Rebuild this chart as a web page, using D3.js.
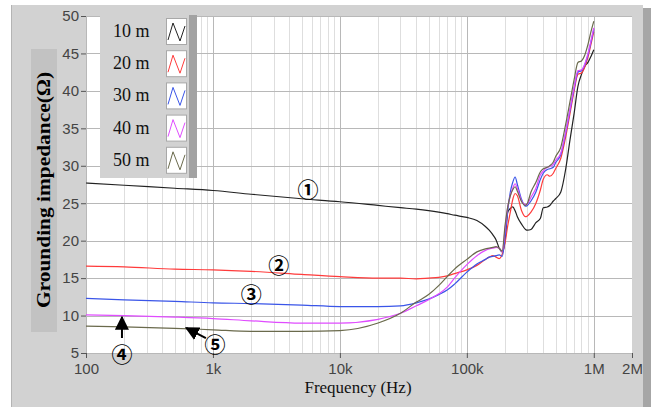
<!DOCTYPE html>
<html>
<head>
<meta charset="utf-8">
<script src="https://cdn.jsdelivr.net/npm/d3@7"></script>
<style>
  body { margin: 0; background: #fff; }
  svg { display: block; }
</style>
</head>
<body>
<svg id="chart" width="651" height="407"></svg>
<script>
// frequency points shared by the five curves (Hz)
var freqs = [100, 200, 500, 1e3, 2e3, 5e3, 1e4, 2e4, 3e4, 4e4, 5e4, 6e4, 7e4, 8e4,
  1e5, 1.2e5, 1.4e5, 1.5e5, 1.6e5, 1.7e5, 1.8e5, 1.9e5, 2e5, 2.1e5, 2.2e5, 2.3e5, 2.4e5, 2.5e5, 2.7e5, 2.9e5,
  3e5, 3.2e5, 3.5e5, 3.8e5, 4e5, 4.3e5, 4.5e5, 4.8e5, 5e5, 5.5e5, 6e5, 6.5e5, 7e5, 7.5e5, 8e5, 8.5e5, 9e5, 9.5e5, 1e6];

// grounding impedance (ohm) for each conductor length
var z10 = [27.7, 27.4, 27.0, 26.7, 26.2, 25.6, 25.2, 24.7, 24.4, 24.2, 24.0, 23.8, 23.6, 23.4,
  23.1, 22.7, 21.9, 21.4, 20.8, 20.1, 19.0, 18.5, 20.0, 23.8, 24.3, 24.5, 24.0, 23.2, 22.2, 21.5,
  21.4, 21.5, 22.4, 23.0, 24.4, 24.5, 24.7, 25.3, 25.6, 26.5, 29.5, 33.5, 37.0, 40.6, 42.2, 43.3, 43.8, 44.6, 45.5];
var z20 = [16.6, 16.5, 16.2, 16.1, 15.9, 15.5, 15.2, 15.0, 15.0, 14.9, 15.0, 15.1, 15.3, 15.6,
  16.1, 16.7, 17.5, 17.8, 18.0, 17.8, 17.6, 18.2, 19.7, 22.0, 23.8, 25.5, 26.3, 26.0, 24.0, 23.2,
  23.3, 23.8, 25.0, 26.8, 28.2, 28.8, 28.6, 29.0, 29.6, 31.0, 33.8, 37.0, 40.0, 42.2, 42.4, 43.2, 44.5, 46.2, 47.9];
var z30 = [12.3, 12.1, 11.9, 11.7, 11.6, 11.4, 11.2, 11.2, 11.3, 11.7, 12.2, 12.8, 13.4, 14.2,
  15.8, 16.9, 17.5, 17.8, 17.9, 18.0, 18.1, 17.9, 20.5, 24.0, 26.5, 27.8, 28.5, 27.5, 25.5, 24.6,
  24.7, 25.3, 26.5, 28.2, 29.0, 29.5, 29.6, 29.8, 30.4, 31.5, 34.3, 37.4, 40.3, 42.5, 42.7, 43.5, 44.8, 46.5, 48.2];
var z40 = [10.1, 10.0, 9.8, 9.6, 9.3, 9.0, 9.0, 9.5, 10.3, 11.3, 12.1, 12.9, 13.8, 15.0,
  16.8, 18.0, 18.7, 18.9, 19.0, 19.1, 19.0, 18.5, 21.5, 24.5, 26.0, 27.0, 27.6, 27.0, 25.3, 24.8,
  24.9, 25.8, 27.0, 28.8, 29.3, 29.8, 29.9, 30.2, 30.7, 31.7, 34.5, 37.6, 40.5, 42.7, 42.8, 43.6, 45.0, 46.7, 48.4];
var z50 = [8.6, 8.5, 8.3, 8.1, 7.9, 7.9, 8.0, 9.0, 10.3, 11.8, 12.8, 14.0, 15.2, 16.2,
  17.5, 18.5, 18.9, 19.0, 19.1, 19.2, 19.0, 18.6, 22.0, 24.5, 26.0, 26.8, 27.2, 26.6, 25.2, 24.7,
  25.0, 26.5, 27.8, 29.2, 29.6, 29.8, 30.0, 30.5, 31.2, 32.5, 35.5, 38.6, 41.5, 43.8, 44.0, 44.8, 46.2, 47.9, 49.3];

var seriesValues = [z10, z20, z30, z40, z50];
var legendLabels = ["10 m", "20 m", "30 m", "40 m", "50 m"];
var lineColors = ["#222222", "#ff3b3b", "#3a55e8", "#e04cff", "#6a6a4c"];

var xTicks = [100, 1e3, 1e4, 1e5, 1e6, 2e6];
var xTickLabels = ["100", "1k", "10k", "100k", "1M", "2M"];
var yTicks = [5, 10, 15, 20, 25, 30, 35, 40, 45, 50];

// circled curve numbers, placed in data coordinates (Hz, ohm)
var markLabels = ["\u2460", "\u2461", "\u2462", "\u2463", "\u2464"];
var markAt = [[5600, 27.0], [3300, 16.9], [2000, 13.0], [192, 5.0], [1040, 6.3]];
var arrowFrom = [[192, 7.0], [880, 7.0]];
var arrowTo = [[192, 9.8], [615, 8.35]];

var svg = d3.select("#chart");

var x = d3.scaleLog().domain([100, 2e6]).range([86, 632]);
var y = d3.scaleLinear().domain([5, 50]).range([353, 16]);

// panel background
svg.append("rect").attr("x", 11).attr("y", 5).attr("width", 632).attr("height", 402).attr("fill", "#d2d2d2");
svg.append("rect").attr("x", 643).attr("y", 8).attr("width", 8).attr("height", 399).attr("fill", "#a6a6a6");
svg.append("line").attr("x1", 11.5).attr("x2", 11.5).attr("y1", 5).attr("y2", 407).attr("stroke", "#b4b4b4");

// y title box
svg.append("rect").attr("x", 31).attr("y", 49).attr("width", 26).attr("height", 283).attr("fill", "#c2c2c2");

// plot area
svg.append("rect").attr("x", x.range()[0]).attr("y", y.range()[1])
  .attr("width", x.range()[1] - x.range()[0]).attr("height", y.range()[0] - y.range()[1]).attr("fill", "#fff");

var grid = svg.append("g");
var minor = x.ticks().filter(function(d) { return xTicks.indexOf(d) < 0 && d < 1e6 + 1; });
grid.selectAll("line.minor").data(minor).enter().append("line").attr("class", "minor")
  .attr("x1", function(d) { return Math.round(x(d)) + 0.5; }).attr("x2", function(d) { return Math.round(x(d)) + 0.5; })
  .attr("y1", y.range()[1]).attr("y2", y.range()[0]).attr("stroke", "#dedede");
grid.selectAll("line.vmajor").data(xTicks.slice(0, 5)).enter().append("line").attr("class", "vmajor")
  .attr("x1", function(d) { return Math.round(x(d)) + 0.5; }).attr("x2", function(d) { return Math.round(x(d)) + 0.5; })
  .attr("y1", y.range()[1]).attr("y2", y.range()[0]).attr("stroke", "#b8b8b8");
grid.selectAll("line.hmajor").data(yTicks).enter().append("line").attr("class", "hmajor")
  .attr("x1", x.range()[0]).attr("x2", x.range()[1])
  .attr("y1", function(d) { return Math.round(y(d)) + 0.5; }).attr("y2", function(d) { return Math.round(y(d)) + 0.5; })
  .attr("stroke", "#b8b8b8");

// axes
var yAxis = svg.append("g").attr("transform", "translate(" + x.range()[0] + ",0)")
  .call(d3.axisLeft(y).tickValues(yTicks).tickSize(5).tickPadding(2));
var xAxis = svg.append("g").attr("transform", "translate(0," + y.range()[0] + ")")
  .call(d3.axisBottom(x).tickValues(xTicks).tickFormat(function(d, i) { return xTickLabels[i]; }).tickSize(5).tickPadding(5));
[yAxis, xAxis].forEach(function(a) {
  a.select(".domain").remove();
  a.selectAll("line").attr("stroke", "#555");
  a.selectAll("text").attr("font-family", "Liberation Sans, Arial, sans-serif").attr("font-size", 15).attr("fill", "#444");
});

// curves
var line = d3.line().curve(d3.curveMonotoneX)
  .x(function(d) { return x(d[0]); }).y(function(d) { return y(d[1]); });
svg.append("g").selectAll("path").data(seriesValues).enter().append("path")
  .attr("d", function(v) { return line(d3.zip(freqs, v)); })
  .attr("fill", "none").attr("stroke-width", 1.2)
  .attr("stroke", function(v, i) { return lineColors[i]; });

// curve labels and arrows
svg.append("defs").append("marker").attr("id", "head").attr("viewBox", "0 0 10 10")
  .attr("refX", 9).attr("refY", 5).attr("markerWidth", 7).attr("markerHeight", 7).attr("orient", "auto")
  .append("path").attr("d", "M0,0L10,5L0,10z").attr("fill", "#000");
svg.append("g").selectAll("line").data(arrowFrom).enter().append("line")
  .attr("x1", function(d) { return x(d[0]); }).attr("y1", function(d) { return y(d[1]); })
  .attr("x2", function(d, i) { return x(arrowTo[i][0]); }).attr("y2", function(d, i) { return y(arrowTo[i][1]); })
  .attr("stroke", "#000").attr("stroke-width", 2).attr("marker-end", "url(#head)");
svg.append("g").selectAll("text").data(markAt).enter().append("text")
  .attr("x", function(d) { return x(d[0]); }).attr("y", function(d) { return y(d[1]); })
  .attr("text-anchor", "middle").attr("dominant-baseline", "central")
  .attr("font-family", "Noto Sans CJK JP").attr("font-weight", "bold").attr("font-size", 21)
  .text(function(d, i) { return markLabels[i]; });

// legend
var legend = svg.append("g");
legend.append("rect").attr("x", 100).attr("y", 15).attr("width", 90).attr("height", 163).attr("fill", "#d2d2d2");
legend.append("rect").attr("x", 189).attr("y", 15).attr("width", 8).attr("height", 163).attr("fill", "#a2a2a2");
var entry = legend.selectAll("g.entry").data(legendLabels).enter().append("g").attr("class", "entry")
  .attr("transform", function(d, i) { return "translate(0," + (31 + i * 32.2) + ")"; });
entry.append("text").attr("x", 113).attr("y", 6).attr("font-family", "Liberation Serif, Times New Roman, serif")
  .attr("font-size", 18).attr("fill", "#111").text(function(d) { return d; });
entry.append("rect").attr("x", 166.5).attr("y", -12.5).attr("width", 20).attr("height", 26)
  .attr("fill", "#fff").attr("stroke", "#a8a8a8");
entry.append("path").attr("d", "M168,9L173,-8L180,10L185,-5").attr("fill", "none").attr("stroke-width", 1)
  .attr("stroke", function(d, i) { return lineColors[i]; });

// axis titles
svg.append("text").attr("transform", "translate(50,190) rotate(-90)").attr("text-anchor", "middle")
  .attr("font-family", "Liberation Serif, Times New Roman, serif").attr("font-weight", "bold").attr("font-size", 19)
  .attr("textLength", 236).attr("lengthAdjust", "spacingAndGlyphs")
  .text("Grounding impedance(\u03A9)");
svg.append("text").attr("x", 358).attr("y", 393).attr("text-anchor", "middle")
  .attr("font-family", "Liberation Serif, Times New Roman, serif").attr("font-size", 17).attr("fill", "#111")
  .text("Frequency (Hz)");
</script>
</body>
</html>
